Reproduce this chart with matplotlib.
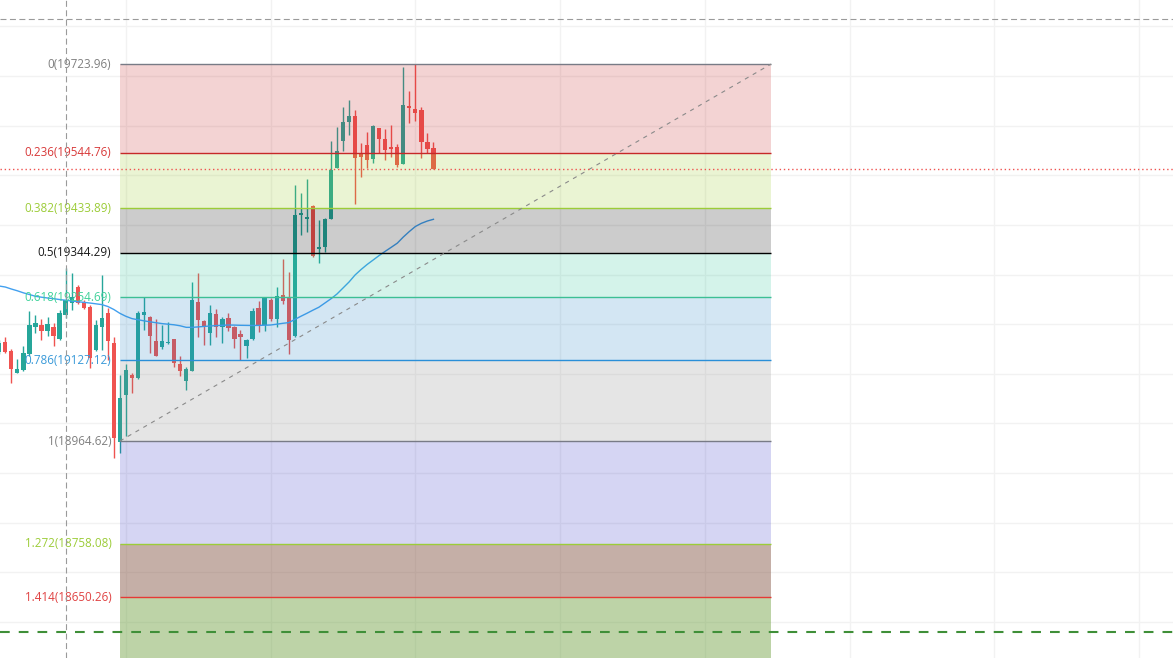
import matplotlib.pyplot as plt
import numpy as np

plt.rcParams['lines.scale_dashes'] = False
plt.rcParams['font.family'] = ['Open Sans', 'DejaVu Sans']

# OHLC per bar
opens = [19144.5, 19164.0, 19145.9, 19102.6, 19107.6, 19140.9, 19194.9, 19198.3, 19186.8, 19193.7,
         19170.1, 19218.4, 19242.0, 19275.4, 19244.6, 19235.1, 19147.9, 19194.9, 19222.5, 19161.4,
         18963.0, 19057.3, 19097.6, 19092.1, 19219.0, 19215.0, 19166.1, 19154.6, 19161.4, 19170.1,
         19119.7, 19086.1, 19106.2, 19244.0, 19206.3, 19182.8, 19219.8, 19193.7, 19212.4, 19194.9,
         19180.2, 19156.6, 19170.1, 19233.1, 19198.3, 19248.6, 19210.4, 19258.7, 19253.3, 19176.7,
         19419.8, 19412.4, 19438.0, 19351.4, 19356.0, 19411.8, 19515.1, 19569.5, 19607.2, 19619.3,
         19542.7, 19560.8, 19533.2, 19595.1, 19572.9, 19557.4, 19556.2, 19523.2, 19639.4, 19633.4,
         19631.3, 19567.5, 19555.4]
highs = [19168.1, 19174.7, 19149.3, 19129.2, 19156.6, 19226.5, 19218.4, 19209.8, 19215.0, 19202.9,
         19228.5, 19313.1, 19303.0, 19278.9, 19248.6, 19238.6, 19208.4, 19299.0, 19232.5, 19174.7,
         19097.6, 19119.1, 19101.0, 19227.1, 19254.1, 19217.0, 19209.8, 19198.3, 19203.7, 19170.5,
         19135.8, 19114.3, 19284.3, 19302.4, 19208.4, 19238.6, 19229.9, 19215.0, 19221.8, 19195.5,
         19188.2, 19170.1, 19233.1, 19246.6, 19254.0, 19252.1, 19274.2, 19331.2, 19305.6, 19480.3,
         19464.8, 19492.4, 19440.0, 19409.8, 19413.0, 19569.5, 19596.5, 19638.0, 19651.5, 19631.3,
         19565.5, 19587.6, 19601.0, 19596.0, 19593.1, 19601.1, 19562.9, 19717.3, 19669.6, 19723.96,
         19638.0, 19585.6, 19567.5]
lows = [19139.9, 19141.9, 19080.9, 19101.6, 19105.6, 19135.8, 19181.6, 19168.1, 19176.1, 19156.0,
        19168.1, 19212.4, 19228.5, 19240.0, 19231.5, 19111.1, 19145.9, 19147.9, 19127.8, 18929.8,
        18941.1, 18975.3, 19061.9, 19090.0, 19188.2, 19141.3, 19135.0, 19149.9, 19161.0, 19114.3,
        19096.2, 19067.4, 19105.0, 19174.7, 19158.0, 19158.0, 19174.7, 19161.4, 19186.2, 19152.6,
        19127.8, 19132.4, 19168.1, 19184.8, 19186.8, 19206.3, 19193.7, 19240.0, 19139.9, 19175.0,
        19379.6, 19385.6, 19334.6, 19323.8, 19345.3, 19411.0, 19514.0, 19549.4, 19581.6, 19442.6,
        19497.0, 19515.1, 19525.2, 19544.1, 19530.6, 19537.3, 19517.1, 19522.0, 19605.8, 19609.2,
        19535.3, 19544.1, 19513.0]
closes = [19162.6, 19143.3, 19109.1, 19109.1, 19141.3, 19199.3, 19202.9, 19186.8, 19199.7, 19176.1,
          19221.8, 19248.6, 19255.3, 19242.0, 19233.5, 19131.2, 19198.3, 19212.4, 19166.1, 18970.1,
          19050.6, 19107.6, 19092.1, 19221.8, 19224.5, 19176.1, 19136.5, 19166.1, 19164.6, 19121.1,
          19106.2, 19109.7, 19248.6, 19208.4, 19193.7, 19221.8, 19194.9, 19209.8, 19193.2, 19170.1,
          19174.7, 19168.1, 19226.5, 19198.3, 19253.3, 19210.4, 19256.7, 19247.2, 19168.1, 19419.8,
          19423.3, 19416.4, 19337.3, 19354.8, 19411.8, 19510.5, 19548.8, 19607.2, 19619.3, 19535.3,
          19537.3, 19530.6, 19599.1, 19573.5, 19550.8, 19553.4, 19520.6, 19641.4, 19636.0, 19625.9,
          19567.5, 19552.2, 19513.1]
# moving average per bar
ma = [19276.8, 19274.8, 19270.8, 19267.2, 19263.1, 19259.7, 19256.1, 19254.3, 19252.7, 19251.3,
      19249.6, 19248.2, 19246.6, 19245.2, 19244.0, 19242.6, 19241.0, 19239.4, 19235.6, 19229.5,
      19221.8, 19215.8, 19211.2, 19208.9, 19206.7, 19204.7, 19202.9, 19201.1, 19199.9, 19198.7,
      19196.7, 19193.6, 19193.6, 19194.5, 19195.5, 19196.3, 19197.1, 19197.7, 19198.3, 19198.1,
      19197.7, 19197.5, 19197.3, 19197.5, 19197.9, 19198.3, 19199.9, 19201.7, 19203.1, 19209.4,
      19215.8, 19221.8, 19228.1, 19234.1, 19242.6, 19251.1, 19260.7, 19272.8, 19284.9, 19299.0,
      19310.1, 19320.2, 19329.2, 19338.3, 19346.7, 19354.8, 19363.1, 19375.5, 19386.6, 19396.7,
      19403.1, 19407.8, 19411.2]

# fibonacci retracement
fib_levels = [0, 0.236, 0.382, 0.5, 0.618, 0.786, 1, 1.272, 1.414]
fib_prices = [19723.96, 19544.76, 19433.89, 19344.29, 19254.69, 19127.12, 18964.62, 18758.08, 18650.26]
fib_start_bar, fib_end_bar = 20, 128

crosshair_bar = 11
crosshair_price = 19814.0
stop_price = 18580.0

line_colors = ['#787b86', '#c62828', '#9ccc38', '#000000', '#3cbf94', '#2a8fd8', '#787b86', '#9ccc38', '#e53935']
label_colors = ['#7f7f7f', '#d83a3a', '#9ccc38', '#1a1a1a', '#40d29a', '#3a9ad9', '#7f7f7f', '#9ccc38', '#e04343']
zone_colors = ['#c32323', '#96c823', '#000000', '#28c396', '#2382c3', '#808080', '#2d2dc3', '#703925', '#5a9325']
zone_alpha = [0.2, 0.2, 0.2, 0.2, 0.2, 0.2, 0.2, 0.4, 0.4]

fig = plt.figure(figsize=(11.73, 6.58), dpi=100)
ax = fig.add_axes([0, 0, 1, 1])
ax.set_xlim(0.12, 194.64)
ax.set_ylim(18527.6, 19852.9)
ax.set_axis_off()

# grid
for gx in range(21, 195, 24):
    ax.axvline(gx, color='#f2f2f2', lw=1, zorder=0)
for gy in range(18600, 19900, 100):
    ax.axhline(gy, color='#f2f2f2', lw=1, zorder=0)

# candles
x = np.arange(len(opens))
o, h, l, c = map(np.array, (opens, highs, lows, closes))
up = c >= o
cols = np.where(up, '#26a69a', '#ef5350')
ax.vlines(x, l, h, colors=cols, lw=1, zorder=2)
body_h = np.maximum(np.abs(c - o), 1.5)
ax.bar(x, body_h, bottom=np.minimum(o, c), width=0.7, color=cols, lw=0, zorder=2)

ax.plot(x, ma, color='#42a0ef', lw=1, zorder=2)

# fib zones
bottom = ax.get_ylim()[0]
zone_edges = fib_prices + [bottom]
for k in range(len(zone_colors)):
    ax.fill_between([fib_start_bar, fib_end_bar], zone_edges[k + 1], zone_edges[k],
                    color=zone_colors[k], alpha=zone_alpha[k], lw=0, zorder=4)
for lvl, p, lc, tc in zip(fib_levels, fib_prices, line_colors, label_colors):
    ax.hlines(p, fib_start_bar, fib_end_bar, color=lc, lw=1, zorder=5)
    ax.text(fib_start_bar - 1.4, p, f"{lvl:g}({p:.2f})", color=tc, fontsize=8.4,
            ha='right', va='center', zorder=6)

ax.plot([fib_start_bar, fib_end_bar], [fib_prices[6], fib_prices[0]], color='#8a8a8a',
        lw=0.8, ls=(0, (3, 3.5)), zorder=6)

# crosshair and price lines
ax.axvline(crosshair_bar, color='#9a9a9a', lw=0.8, ls=(0, (4.3, 2.5)), zorder=7)
ax.axhline(crosshair_price, color='#9a9a9a', lw=0.8, ls=(0, (4.3, 2.5)), zorder=7)
ax.axhline(closes[-1], color='#ef5350', lw=1.0, ls=(0, (1, 2)), zorder=7)
ax.axhline(stop_price, color='#3f8f38', lw=1.5, ls=(0, (7, 6.5)), zorder=7)

fig.savefig('out.png', dpi=100)
